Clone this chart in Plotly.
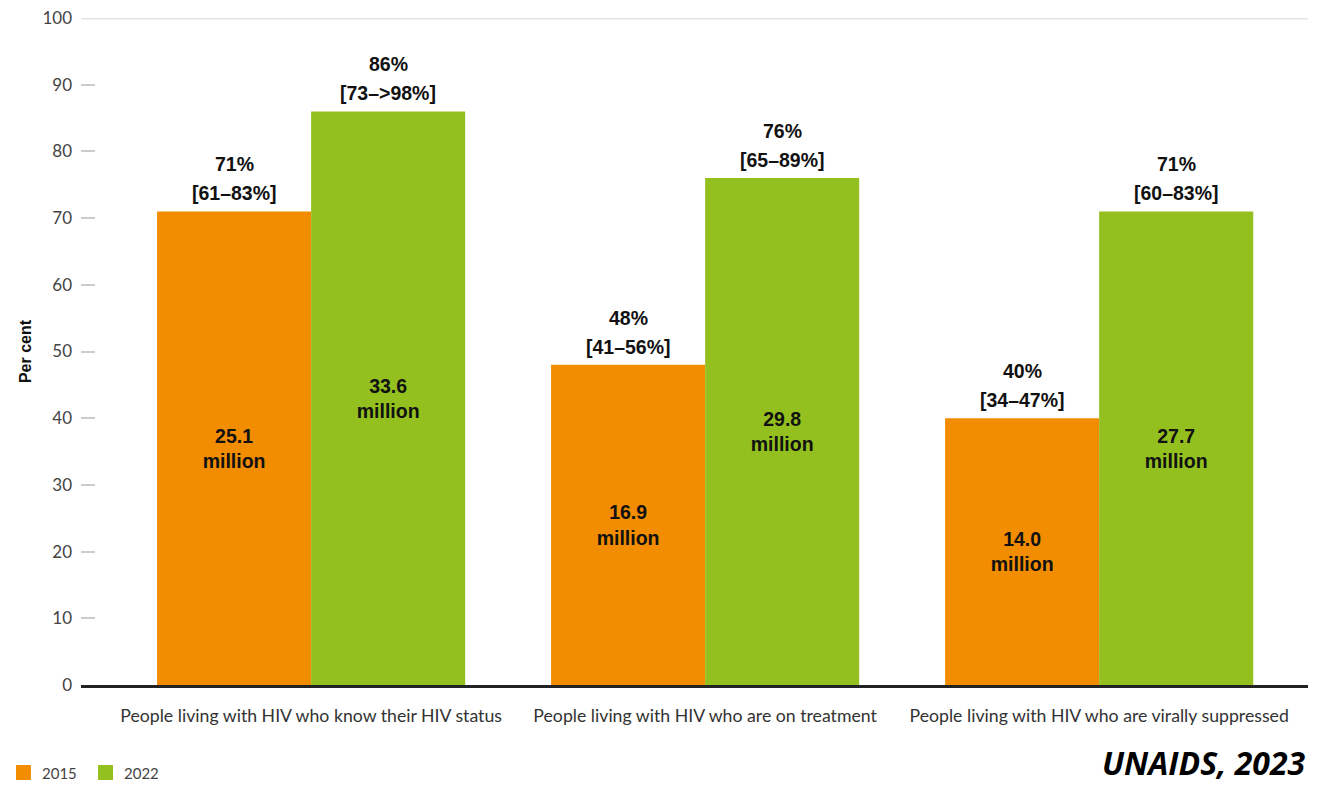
import plotly.graph_objects as go

# Categories and values
categories = [
    "People living with HIV who know their HIV status",
    "People living with HIV who are on treatment",
    "People living with HIV who are virally suppressed",
]
years = ["2015", "2022"]
pct_2015 = [71, 48, 40]
pct_2022 = [86, 76, 71]
range_2015 = ["[61–83%]", "[41–56%]", "[34–47%]"]
range_2022 = ["[73–>98%]", "[65–89%]", "[60–83%]"]
people_2015 = ["25.1", "16.9", "14.0"]
people_2022 = ["33.6", "29.8", "27.7"]
y_ticks = [0, 10, 20, 30, 40, 50, 60, 70, 80, 90, 100]

ORANGE = "#F28C00"
GREEN = "#93C01F"
COLOURS = [ORANGE, GREEN]
BOLD_FONT = "Liberation Sans, Arial, sans-serif"
LIGHT_FONT = "Lato, Open Sans, sans-serif"

x_pos = list(range(len(categories)))
bargap = 0.218
half = (1 - bargap) / 4  # offset of each bar centre from the category centre

fig = go.Figure()
for name, vals, people, colour in [
    (years[0], pct_2015, people_2015, ORANGE),
    (years[1], pct_2022, people_2022, GREEN),
]:
    fig.add_trace(go.Bar(
        x=x_pos,
        y=vals,
        name=name,
        marker=dict(color=colour, line=dict(width=0)),
        text=[f"<b>{p}<br>million</b>" for p in people],
        textposition="inside",
        insidetextanchor="middle",
        textangle=0,
        textfont=dict(family=BOLD_FONT, size=19.5, color="#111111"),
        constraintext="none",
        hoverinfo="skip",
        showlegend=False,
    ))

annotations = []
label_font = dict(family=BOLD_FONT, size=19.5, color="#111111")
# Percentage and uncertainty range above each bar
for i in x_pos:
    for vals, ranges, off in [(pct_2015, range_2015, -half), (pct_2022, range_2022, half)]:
        annotations.append(dict(
            x=i + off, y=vals[i], xref="x", yref="y",
            text=f"<b>{ranges[i]}</b>", showarrow=False,
            yanchor="bottom", yshift=5, font=label_font,
        ))
        annotations.append(dict(
            x=i + off, y=vals[i], xref="x", yref="y",
            text=f"<b>{vals[i]}%</b>", showarrow=False,
            yanchor="bottom", yshift=34, font=label_font,
        ))

# Legend drawn below the plot area, bottom left
shapes = [dict(
    type="line", xref="paper", yref="y", x0=0, x1=1, y0=100, y1=100,
    line=dict(color="#E3E3E3", width=3), layer="below",
)]
legend_x = [-0.053, 0.0139]
for yr, colour, lx in zip(years, COLOURS, legend_x):
    shapes.append(dict(
        type="rect", xref="paper", yref="paper",
        x0=lx, x1=lx + 0.0122, y0=-0.1424, y1=-0.1199,
        fillcolor=colour, line=dict(width=0),
    ))
    annotations.append(dict(
        x=lx + 0.0195, y=-0.1312, xref="paper", yref="paper",
        text=yr, showarrow=False, xanchor="left", yanchor="middle",
        font=dict(family=LIGHT_FONT, size=15, color="#444444"),
    ))

annotations.append(dict(
    x=1.0, y=-0.1515, xref="paper", yref="paper",
    text="<b><i>UNAIDS, 2023</i></b>", showarrow=False,
    xanchor="right", yanchor="bottom",
    font=dict(family="Open Sans, sans-serif", size=32, color="#000000"),
))

fig.update_layout(
    width=1319, height=788,
    margin=dict(l=81, r=11, t=18, b=103),
    paper_bgcolor="white", plot_bgcolor="white",
    barmode="group", bargap=bargap, bargroupgap=0,
    showlegend=False,
    annotations=annotations,
    shapes=shapes,
)

fig.update_xaxes(
    range=[-0.584, 2.53], automargin=False,
    tickmode="array", tickvals=x_pos, ticktext=categories,
    tickfont=dict(family=LIGHT_FONT, size=17.7, color="#333333"),
    showgrid=False, zeroline=False,
    showline=True, linecolor="#222222", linewidth=3,
    ticks="", ticklabelstandoff=13,
)
fig.update_yaxes(
    range=[0, 100], automargin=False,
    tickmode="array", tickvals=y_ticks,
    tickfont=dict(family=LIGHT_FONT, size=17, color="#444444"),
    showgrid=False, zeroline=False, showline=False,
    ticks="inside", ticklen=14, tickcolor="#CCCCCC", tickwidth=1.5,
    ticklabelstandoff=8,
    title=dict(text="<b>Per cent</b>", standoff=6,
               font=dict(family=BOLD_FONT, size=16, color="#111111")),
)

fig.write_html("out.html")
